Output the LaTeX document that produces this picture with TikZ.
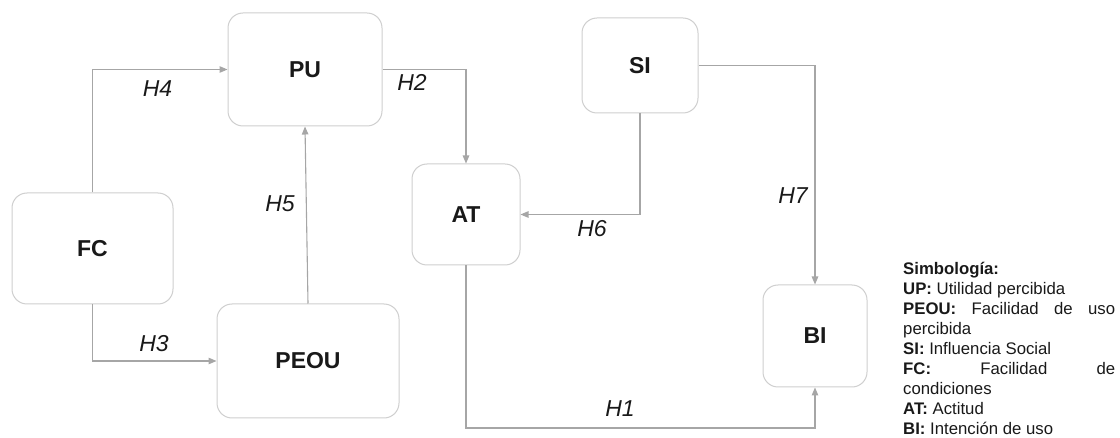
\documentclass[tikz,border=0pt]{standalone}
\usepackage{fontspec}
\setmainfont{Liberation Sans}
\usetikzlibrary{arrows.meta}
\definecolor{boxline}{HTML}{CFCFCF}
\definecolor{arrowline}{HTML}{A6A6A6}
\begin{document}
\begin{tikzpicture}[x=1pt,y=-1pt,
  construct/.style={draw=boxline, line width=1pt, rounded corners=15pt, fill=white,
    inner sep=0pt, font=\fontsize{23}{26}\selectfont\bfseries, text=black!90},
  conn/.style={draw=arrowline, line width=1.1pt, -{Triangle[length=8pt,width=6.5pt]}},
  hyp/.style={inner sep=0pt, font=\fontsize{23}{26}\selectfont\itshape, text=black!90}]
\useasboundingbox (0,0) rectangle (1120,438);
% constructs
\node[construct, minimum width=154pt, minimum height=113pt] (PU) at (305,69.5) {PU};
\node[construct, minimum width=161pt, minimum height=111pt] (FC) at (92.5,248.5) {FC};
\node[construct, minimum width=182pt, minimum height=114pt] (PEOU) at (308,361) {PEOU};
\node[construct, minimum width=108pt, minimum height=101pt] (AT) at (466,214.5) {AT};
\node[construct, minimum width=116pt, minimum height=95pt] (SI) at (640,65.5) {SI};
\node[construct, minimum width=104pt, minimum height=102pt] (BI) at (815,336) {BI};
\coordinate (h1c) at (815,428);
% connectors
\draw[conn] (FC.north) |- (PU.west);
\draw[conn] (FC.south) |- (PEOU.west);
\draw[conn] (PEOU.north) -- (PU.south);
\draw[conn] (PU.east) -| (AT.north);
\draw[conn] (SI.south) |- (AT.east);
\draw[conn] (SI.east) -| (BI.north);
\draw[conn] (AT.south) |- (h1c) -- (BI.south);
% hypothesis labels
\node[hyp] (lH4) at (157.5,88.5) {H4};
\node[hyp] (lH3) at (154,344) {H3};
\node[hyp] (lH5) at (280,203.5) {H5};
\node[hyp] (lH2) at (412,82) {H2};
\node[hyp] (lH6) at (592,229) {H6};
\node[hyp] (lH7) at (793,196) {H7};
\node[hyp] (lH1) at (620,409) {H1};
% legend
\node[anchor=base west, inner sep=0pt, text=black!90] (legend) at (903,274.5) {\vtop{\hsize=212pt\parindent=0pt\parskip=0pt
\fontsize{16.75}{20}\selectfont
\textbf{Simbología:}\par
\textbf{UP:} Utilidad percibida\par
\makebox[\hsize][s]{\textbf{PEOU:} Facilidad de uso}\par
percibida\par
\textbf{SI:} Influencia Social\par
\makebox[\hsize][s]{\textbf{FC:} Facilidad de}\par
condiciones\par
\textbf{AT:} Actitud\par
\textbf{BI:} Intención de uso\par}};
\end{tikzpicture}
\end{document}
